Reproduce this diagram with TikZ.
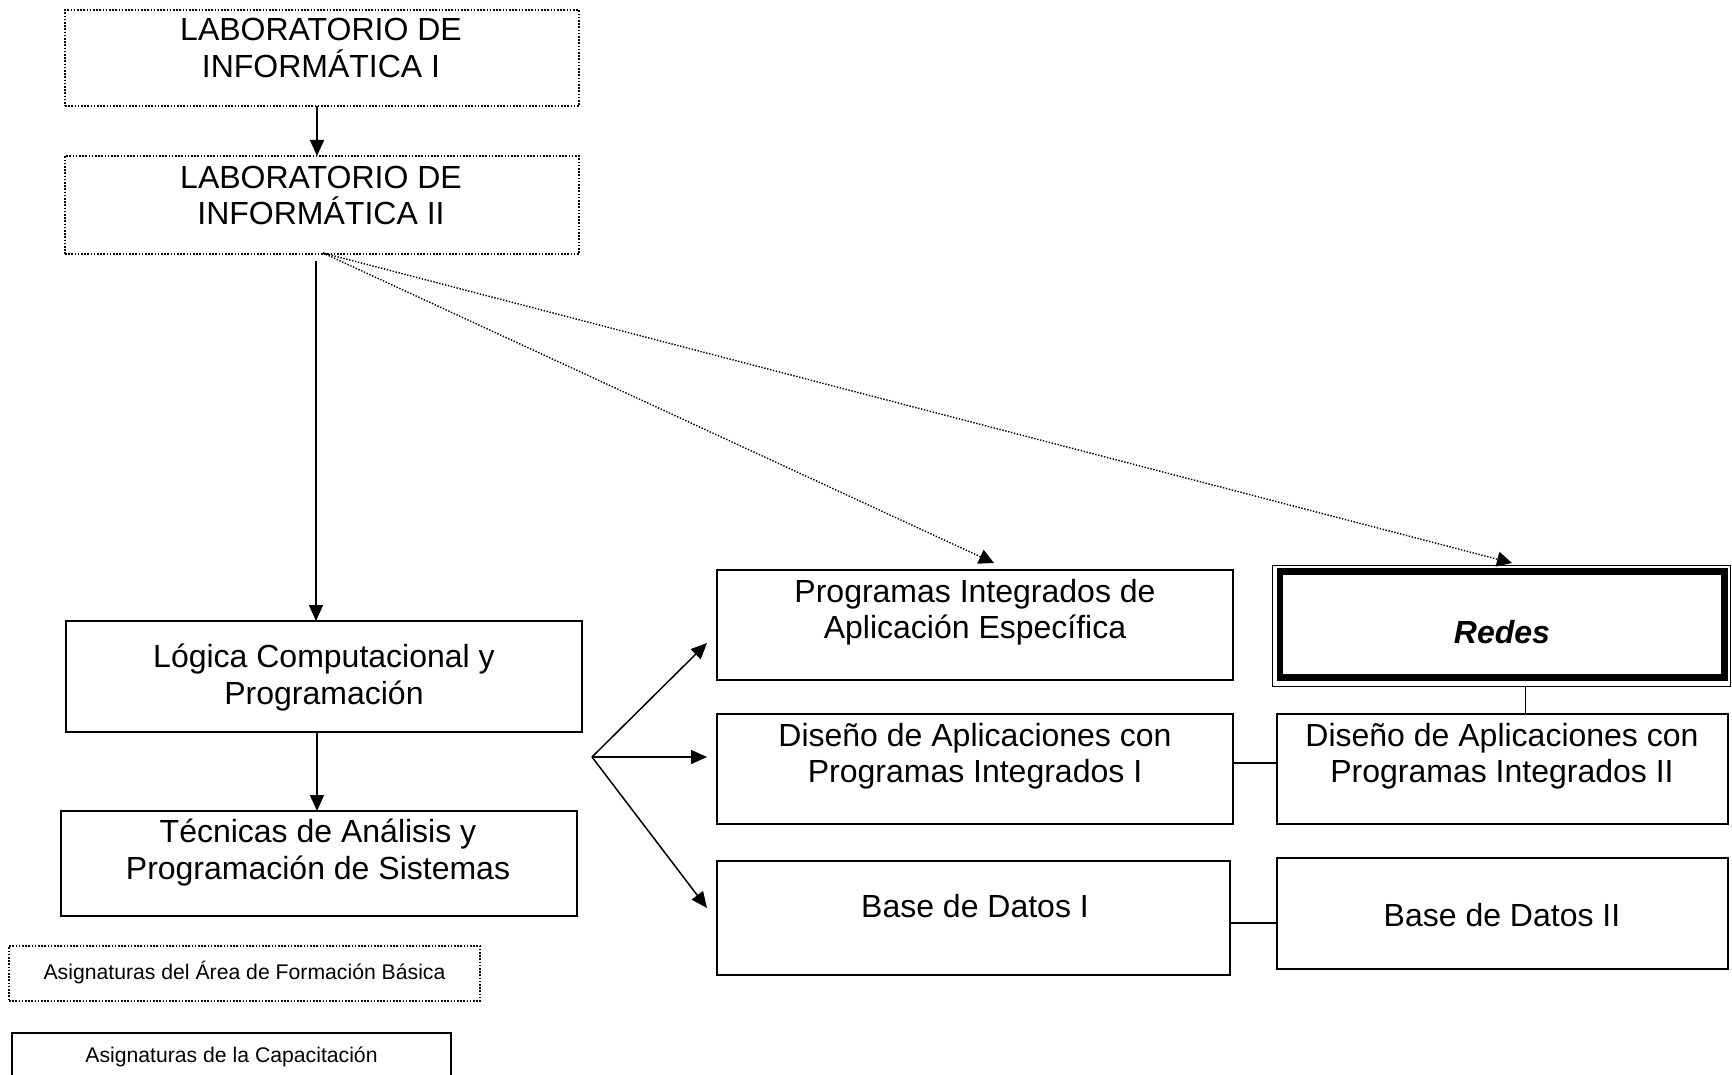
\documentclass[tikz,border=0pt]{standalone}
\usepackage{fontspec}
\setmainfont{Liberation Sans}
\usetikzlibrary{arrows.meta}
\tikzset{
  solidbox/.style={draw, line width=2pt, inner sep=0pt, outer sep=0pt},
  dotbox/.style={draw, line width=1.8pt, dash pattern=on 1.6pt off 1.6pt, inner sep=0pt, outer sep=0pt},
  big/.style={inner sep=0pt, anchor=base, font=\fontsize{32}{36.5}\selectfont},
  small/.style={inner sep=0pt, anchor=base, font=\fontsize{21.2}{25}\selectfont},
  arr/.style={line width=1.5pt, -{Triangle[length=16pt,width=14pt]}},
  dotarr/.style={line width=1.4pt, dash pattern=on 1.4pt off 1.6pt, -{Triangle[length=15pt,width=15pt]}},
  link/.style={line width=1.5pt}
}
\newcommand{\boxat}[6]{% style, name, x1, y1, x2, y2
  \node[#1, minimum width={#5-#3}, minimum height={#6-#4}] (#2) at ({(#3+#5)/2},{(#4+#6)/2}) {};}
\begin{document}
\begin{tikzpicture}[x=1pt,y=-1pt]
\useasboundingbox (0,0) rectangle (1732,1075);
\fill[white] (0,0) rectangle (1732,1075);

% boxes
\boxat{dotbox}{labI}{65}{10}{579}{106}
\boxat{dotbox}{labII}{65}{156}{579}{254}
\boxat{solidbox}{logica}{66}{621}{582}{732}
\boxat{solidbox}{tecnicas}{61}{811}{577}{916}
\boxat{solidbox}{prog}{717}{570}{1233}{680}
\boxat{solidbox}{disI}{717}{714}{1233}{824}
\boxat{solidbox}{baseI}{717}{861}{1230}{975}
\boxat{solidbox}{disII}{1277}{714}{1728}{824}
\boxat{solidbox}{baseII}{1277}{858}{1728}{969}
\node[draw, line width=1pt, inner sep=0pt, outer sep=0pt, minimum width=458pt, minimum height=121pt] (redes) at (1501,625.5) {};
\node[draw, line width=6.5pt, inner sep=0pt, outer sep=0pt, minimum width=444.5pt, minimum height=106pt] (redesin) at (1502.25,624.5) {};
\boxat{dotbox}{legI}{9}{946}{480}{1001}
\boxat{solidbox}{legII}{12}{1033}{451}{1090}

% texts
\node[big] (tA1) at (321,41) {LABORATORIO DE};
\node[big] (tA2) at (321,77.5) {INFORMÁTICA I};
\node[big] (tB1) at (321,188.5) {LABORATORIO DE};
\node[big] (tB2) at (321,225) {INFORMÁTICA II};
\node[big] (tC1) at (324,667.5) {Lógica Computacional y};
\node[big] (tC2) at (324,704) {Programación};
\node[big] (tD1) at (318,842.5) {Técnicas de Análisis y};
\node[big] (tD2) at (318,879) {Programación de Sistemas};
\node[big] (tE1) at (975,602) {Programas Integrados de};
\node[big] (tE2) at (975,638.5) {Aplicación Específica};
\node[big] (tF1) at (975,746) {Diseño de Aplicaciones con};
\node[big] (tF2) at (975,782.5) {Programas Integrados I};
\node[big] (tG1) at (1502,746) {Diseño de Aplicaciones con};
\node[big] (tG2) at (1502,782.5) {Programas Integrados II};
\node[big] (tH) at (975,917.5) {Base de Datos I};
\node[big] (tI) at (1502,926) {Base de Datos II};
\node[big, font=\fontsize{32}{36.5}\selectfont\bfseries\itshape] (tR) at (1502,643) {Redes};
\node[small] (tL1) at (244.5,979.5) {Asignaturas del Área de Formación Básica};
\node[small] (tL2) at (231.5,1062.5) {Asignaturas de la Capacitación};

% connectors
\draw[arr] ([xshift=-5pt]labI.south) -- ([xshift=-5pt]labI.south |- labII.north);
\draw[arr] ([xshift=-6pt,yshift=-7pt]labII.south) -- ([xshift=-6pt]labII.south |- logica.north);
\draw[arr] ([xshift=-7pt]logica.south) -- ([xshift=-7pt]logica.south |- tecnicas.north);

\coordinate (fan) at (592,757);
\coordinate (fanA) at (707,643);
\coordinate (fanB) at (707,757);
\coordinate (fanC) at (707,908);
\draw[arr] (fan) -- (fanA);
\draw[arr] (fan) -- (fanB);
\draw[arr] (fan) -- (fanC);

\coordinate (dsrc) at (323,253);
\coordinate (dtipA) at (994,563);
\coordinate (dtipB) at (1512,563);
\draw[dotarr] (dsrc) -- (dtipA);
\draw[dotarr] (dsrc) -- (dtipB);

\draw[link] ([xshift=24.7pt]redes.south) -- ([xshift=24.7pt]redes.south |- disII.north);
\draw[link] ([yshift=6pt]disI.east) -- ([yshift=6pt]disI.east -| disII.west);
\draw[link] ([yshift=-5pt]baseI.east) -- ([yshift=-5pt]baseI.east -| baseII.west);
\end{tikzpicture}
\end{document}
